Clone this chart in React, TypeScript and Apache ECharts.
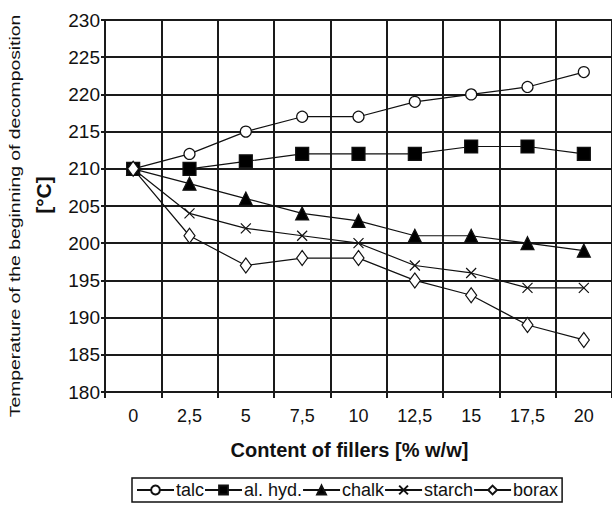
import React, { useEffect, useRef } from "react";
import * as echarts from "echarts";

const categories = ["0", "2,5", "5", "7,5", "10", "12,5", "15", "17,5", "20"];
const talc = [210, 212, 215, 217, 217, 219, 220, 221, 223];
const alHyd = [210, 210, 211, 212, 212, 212, 213, 213, 212];
const chalk = [210, 208, 206, 204, 203, 201, 201, 200, 199];
const starch = [210, 204, 202, 201, 200, 197, 196, 194, 194];
const borax = [210, 201, 197, 198, 198, 195, 193, 189, 187];

const FONT = "Liberation Sans, Arial, sans-serif";

export default function App() {
  const ref = useRef<HTMLDivElement>(null);
  useEffect(() => {
    if (!ref.current) return;
    const chart = echarts.init(ref.current, null, { renderer: "svg" });
    const line = (name: string, data: number[], symbol: string, size: any, fill: string) => ({
      name,
      type: "line",
      data,
      symbol,
      symbolSize: size,
      showAllSymbol: true,
      lineStyle: { color: "#111", width: 1.2 },
      itemStyle: { color: fill, borderColor: "#111", borderWidth: 1.2 },
      z: 3,
    });
    const gridLine = { color: "#1a1a1a", width: 2 };
    chart.setOption({
      animation: false,
      textStyle: { fontFamily: FONT },
      grid: { left: 105, top: 20, right: -10, bottom: 116, containLabel: false },
      xAxis: {
        type: "category",
        data: categories,
        boundaryGap: true,
        axisLine: { show: true, lineStyle: gridLine },
        axisTick: { show: true, alignWithLabel: false, length: 6, lineStyle: gridLine },
        splitLine: { show: true, lineStyle: gridLine },
        axisLabel: { color: "#111", fontSize: 18, margin: 15, fontFamily: FONT },
        name: "Content of fillers [% w/w]",
        nameLocation: "middle",
        nameGap: 48,
        nameTextStyle: { color: "#111", fontSize: 20, fontWeight: "bold", fontFamily: FONT, padding: [0, 18, 0, 0] },
      },
      yAxis: {
        type: "value",
        min: 180,
        max: 230,
        interval: 5,
        axisLine: { show: true, lineStyle: gridLine },
        axisTick: { show: true, length: 4, lineStyle: gridLine },
        splitLine: { show: true, lineStyle: gridLine },
        axisLabel: { color: "#111", fontSize: 19, margin: 5, fontFamily: FONT },
      },
      legend: {
        left: 132,
        top: 478,
        itemGap: 0,
        itemWidth: 37,
        itemHeight: 11,
        borderColor: "#111",
        borderWidth: 1.5,
        borderRadius: 0,
        padding: [3, 4, 3, 4],
        textStyle: { color: "#111", fontSize: 18, fontFamily: FONT, padding: [0, 0, 0, -3] },
        data: ["talc", "al. hyd.", "chalk", "starch", "borax"],
      },
      series: [
        line("talc", talc, "circle", 11, "#fff"),
        line("al. hyd.", alHyd, "rect", 13, "#000"),
        line("chalk", chalk, "triangle", 13, "#000"),
        {
          ...line("starch", starch, "path://M0,0L10,10M10,0L0,10", 10, "none"),
          itemStyle: { color: "none", borderColor: "#111", borderWidth: 1.2 },
        },
        line("borax", borax, "diamond", [11, 15], "#fff"),
      ],
      graphic: [
        {
          type: "text",
          x: 15,
          y: 216,
          rotation: Math.PI / 2,
          scaleX: 1.38,
          style: {
            text: "Temperature of the beginning of decomposition",
            font: `14px ${FONT}`,
            fill: "#111",
            align: "center",
            verticalAlign: "middle",
          },
        },
        {
          type: "text",
          x: 43,
          y: 195,
          rotation: Math.PI / 2,
          style: {
            text: "[°C]",
            font: `bold 21px ${FONT}`,
            fill: "#111",
            align: "center",
            verticalAlign: "middle",
          },
        },
      ],
    });
    return () => chart.dispose();
  }, []);
  return (
    <div
      ref={ref}
      style={{ position: "fixed", left: 0, top: 0, width: 612, height: 508, background: "#fff" }}
    />
  );
}
